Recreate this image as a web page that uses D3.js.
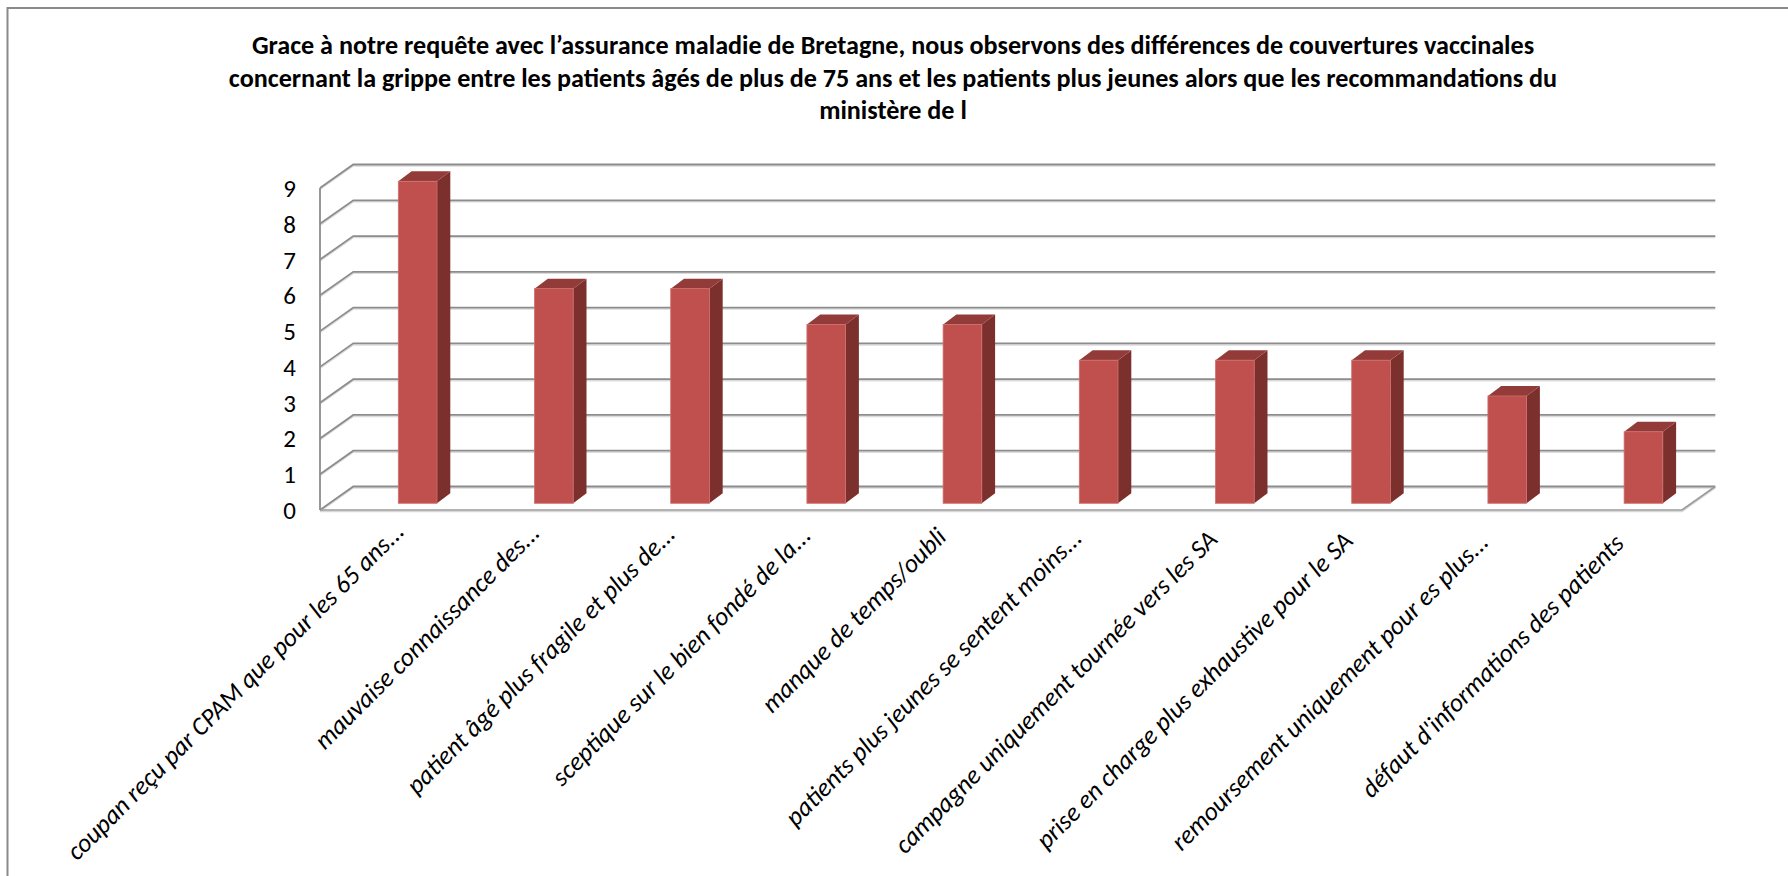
<!DOCTYPE html>
<html><head><meta charset="utf-8">
<script src="https://cdn.jsdelivr.net/npm/d3@7"></script>
<style>body{margin:0;background:#fff;overflow:hidden} svg{display:block}</style>
</head><body>
<svg id="c" width="1788" height="876"></svg>
<script>
const titleLines = [
  "Grace à notre requête avec l’assurance maladie de Bretagne, nous observons des différences de couvertures vaccinales",
  "concernant la grippe entre les patients âgés de plus de 75 ans et les patients plus jeunes alors que les recommandations du",
  "ministère de l"
];
const categories = [
  "coupan reçu par CPAM que pour les 65 ans...",
  "mauvaise connaissance des...",
  "patient âgé plus fragile et plus de...",
  "sceptique sur le bien fondé de la...",
  "manque de temps/oubli",
  "patients plus jeunes se sentent moins...",
  "campagne uniquement tournée vers les SA",
  "prise en charge plus exhaustive pour le SA",
  "remoursement uniquement pour es plus...",
  "défaut d'informations des patients"
];
const values = [9, 6, 6, 5, 5, 4, 4, 4, 3, 2];
const yTicks = [0, 1, 2, 3, 4, 5, 6, 7, 8, 9];

const W = 1788, H = 876;
const svg = d3.select("#c");

// outer chart border (extends past the window on right/bottom)
svg.append("rect").attr("x", 7.5).attr("y", 8).attr("width", W + 300).attr("height", H + 300)
  .attr("fill", "#fff").attr("stroke", "#8a8a8a").attr("stroke-width", 2);

// geometry
const X0 = 320, X1 = 1682;
const DX = 33.3, DY = -23.5;           // wall depth
const y = d3.scaleLinear().domain([0, 9]).range([510, 188]);
const x = d3.scaleBand().domain(categories).range([X0, X1]);
const step = x.step();

// walls / gridlines
const grid = svg.append("g");
yTicks.forEach(v => {
  const yy = y(v);
  const d = `M${X0},${yy} L${X0 + DX},${yy + DY} L${X1 + DX},${yy + DY}`;
  grid.append("path").attr("d", d).attr("fill", "none").attr("stroke", "#dcdcdc").attr("stroke-width", 1.5)
    .attr("transform", "translate(0,1.5)");
  grid.append("path").attr("d", d).attr("fill", "none").attr("stroke", "#8c8c8c").attr("stroke-width", 1.8);
});
// left wall front edge
grid.append("line").attr("x1", X0).attr("x2", X0).attr("y1", y(0)).attr("y2", y(9))
  .attr("stroke", "#8c8c8c").attr("stroke-width", 1.8);
// floor
const fy = y(0);
grid.append("path")
  .attr("d", `M${X0},${fy} L${X1},${fy} L${X1 + DX},${fy + DY}`)
  .attr("fill", "none").attr("stroke", "#d8d8d8").attr("stroke-width", 1.5).attr("transform", "translate(0,1.5)");
grid.append("path")
  .attr("d", `M${X0},${fy} L${X1},${fy} L${X1 + DX},${fy + DY}`)
  .attr("fill", "none").attr("stroke", "#9a9a9a").attr("stroke-width", 1.6);

// y axis labels
svg.append("g").selectAll("text").data(yTicks).join("text")
  .attr("x", 296).attr("y", d => y(d)).attr("dy", "0.36em")
  .attr("text-anchor", "end")
  .attr("font-family", "Carlito, Calibri, Lato, sans-serif").attr("font-size", 25)
  .attr("fill", "#000").text(d => d);

// bars
const barOff = 0.575 * step, barW = 0.284 * step;
const barLift = 6.7;              // bars sit slightly back on the floor
const bdx = 13.3, bdy = -10;      // bar depth
const bars = svg.append("g").selectAll("g").data(values.map((v, i) => ({v, c: categories[i]}))).join("g");
bars.each(function(d) {
  const g = d3.select(this);
  const left = x(d.c) + barOff, right = left + barW;
  const bottom = y(0) - barLift, top = y(d.v) - barLift;
  g.append("path").attr("d", `M${right},${bottom} L${right + bdx},${bottom + bdy} L${right + bdx},${top + bdy} L${right},${top}Z`)
    .attr("fill", "#7C302E");
  g.append("path").attr("d", `M${left},${top} L${left + bdx},${top + bdy} L${right + bdx},${top + bdy} L${right},${top}Z`)
    .attr("fill", "#923B38");
  g.append("rect").attr("x", left).attr("y", top).attr("width", barW).attr("height", bottom - top)
    .attr("fill", "#C0504D").attr("stroke", "#cf6f6c").attr("stroke-width", 0.8);
});

// category labels, rotated
const lblDx = d3.scaleLinear().domain([0, categories.length - 1]).range([-12, -18]);
const lblY = d3.scaleLinear().domain([0, categories.length - 1]).range([533, 545]);
const labels = svg.append("g").selectAll("text").data(categories).join("text")
  .attr("transform", (d, i) => {
    const cx = x(d) + barOff + barW / 2 + lblDx(i);
    return `translate(${cx},${lblY(i)}) rotate(-45)`;
  })
  .attr("text-anchor", "end")
  .attr("font-family", "Carlito, Calibri, Lato, sans-serif").attr("font-style", "italic")
  .attr("font-size", 22).attr("fill", "#000").text(d => d);
// fit label font to reference length of first label
const l0 = labels.node().getComputedTextLength();
const lfs = 22 * 465 / l0;
labels.attr("font-size", lfs);

// title
const title = svg.append("g").selectAll("text").data(titleLines).join("text")
  .attr("x", 893).attr("y", (d, i) => 54 + i * 32.5)
  .attr("text-anchor", "middle")
  .attr("font-family", "Carlito, Calibri, Lato, sans-serif").attr("font-weight", "bold")
  .attr("font-size", 24).attr("fill", "#000").text(d => d);
const t0 = title.node().getComputedTextLength();
title.attr("font-size", 24 * 1283 / t0);
</script>
</body></html>
